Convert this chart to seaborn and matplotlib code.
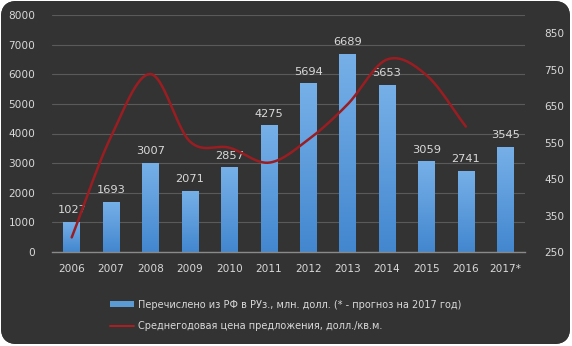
import numpy as np
import pandas as pd
import matplotlib
matplotlib.use("Agg")
import matplotlib.pyplot as plt
import seaborn as sns
from matplotlib.patches import FancyBboxPatch, Patch
from matplotlib.lines import Line2D
from matplotlib.colors import LinearSegmentedColormap

years = ["2006", "2007", "2008", "2009", "2010", "2011",
         "2012", "2013", "2014", "2015", "2016", "2017*"]
transfers = [1027, 1693, 3007, 2071, 2857, 4275, 5694, 6689, 5653, 3059, 2741, 3545]
price_years = years[:11]
price = [290, 567, 738, 553, 536, 495, 558, 655, 778, 735, 594]

bar_label = "Перечислено из РФ в РУз., млн. долл. (* - прогноз на 2017 год)"
line_label = "Среднегодовая цена предложения, долл./кв.м."

text_col = "#d9d9d9"
grid_col = "#5a5a5a"
line_col = "#9a1d22"

sns.set_theme(style="dark")
plt.rcParams["font.family"] = ["DejaVu Sans"]

W, H, DPI = 572, 346, 100
fig = plt.figure(figsize=(W / DPI, H / DPI), dpi=DPI, facecolor="white")

# dark rounded panel with a soft radial gradient
bg = fig.add_axes([0, 0, 1, 1], zorder=-10)
bg.set_xlim(0, W)
bg.set_ylim(0, H)
bg.axis("off")
panel = FancyBboxPatch((1, 2), W - 3, H - 3, boxstyle="round,pad=0,rounding_size=16",
                       facecolor="#333333", edgecolor="none", transform=bg.transData)
bg.add_patch(panel)
gx, gy = np.meshgrid(np.linspace(0, W, 300), np.linspace(0, H, 200))
r = np.sqrt(((gx - 0.62 * W) / (0.72 * W)) ** 2 + ((gy - 0.58 * H) / (0.85 * H)) ** 2)
r = np.clip(r, 0, 1)
bg_cmap = LinearSegmentedColormap.from_list("bg", ["#4c4c4c", "#383838", "#1f1f1f"])
img = bg.imshow(r, extent=[0, W, 0, H], origin="lower", cmap=bg_cmap, vmin=0, vmax=1,
                aspect="auto", zorder=0)
img.set_clip_path(panel)

ax = fig.add_axes([52 / W, 1 - 252 / H, 473 / W, 237 / H])
ax.set_facecolor("none")

df = pd.DataFrame({"year": years, "value": transfers})
sns.barplot(data=df, x="year", y="value", color="#5b9bd5", width=0.42, ax=ax,
            saturation=1, zorder=2, edgecolor="none", linewidth=0)

# vertical gradient fill inside every bar
bar_cmap = LinearSegmentedColormap.from_list("bar", ["#4387cf", "#77b0e8"])
grad = np.linspace(0, 1, 100).reshape(-1, 1)
for p in list(ax.patches):
    x0, w, h = p.get_x(), p.get_width(), p.get_height()
    im = ax.imshow(grad, extent=[x0, x0 + w, 0, h], origin="lower", cmap=bar_cmap,
                   aspect="auto", zorder=2.5)
    im.set_clip_path(p)
    ax.text(x0 + w / 2, h + 230, f"{int(h)}", ha="center", va="bottom",
            color=text_col, fontsize=8.2, zorder=4)

ax.set_xlim(-0.5, 11.5)
ax.set_ylim(0, 8000)
ax.set_yticks(np.arange(0, 8001, 1000))
ax.set_xlabel("")
ax.set_ylabel("")
ax.grid(axis="y", color=grid_col, linewidth=0.8)
ax.grid(axis="x", visible=False)
ax.set_axisbelow(True)
for s in ["top", "right", "left"]:
    ax.spines[s].set_visible(False)
ax.spines["bottom"].set_color("#8a8a8a")
ax.spines["bottom"].set_linewidth(1.0)
ax.tick_params(axis="both", colors=text_col, labelsize=7.6, length=0)
ax.tick_params(axis="y", pad=12)
ax.tick_params(axis="x", pad=9)

# secondary axis: smoothed price curve
ax2 = ax.twinx()
ax2.set_ylim(250, 900)
ax2.set_yticks(np.arange(250, 851, 100))
ax2.tick_params(axis="y", colors=text_col, labelsize=7.6, length=0, pad=14)
for s in ax2.spines.values():
    s.set_visible(False)
ax2.grid(False)


def catmull_rom(xs, ys, n=30):
    xs = np.asarray(xs, float)
    ys = np.asarray(ys, float)
    px = np.concatenate([[2 * xs[0] - xs[1]], xs, [2 * xs[-1] - xs[-2]]])
    py = np.concatenate([[2 * ys[0] - ys[1]], ys, [2 * ys[-1] - ys[-2]]])
    outx, outy = [], []
    for i in range(1, len(px) - 2):
        t = np.linspace(0, 1, n, endpoint=False)
        for arr, out in ((px, outx), (py, outy)):
            p0, p1, p2, p3 = arr[i - 1], arr[i], arr[i + 1], arr[i + 2]
            out.append(0.5 * (2 * p1 + (-p0 + p2) * t + (2 * p0 - 5 * p1 + 4 * p2 - p3) * t ** 2
                              + (-p0 + 3 * p1 - 3 * p2 + p3) * t ** 3))
    outx.append([xs[-1]])
    outy.append([ys[-1]])
    return np.concatenate(outx), np.concatenate(outy)


pos = [years.index(y) for y in price_years]
sx, sy = catmull_rom(pos, price)
ax2.plot(sx, sy, color=line_col, linewidth=1.8, zorder=5, solid_capstyle="round")

handles = [Patch(facecolor="#5b9bd5", edgecolor="none"),
           Line2D([], [], color="#b01e22", linewidth=1.4)]
fig.legend(handles, [bar_label, line_label], loc="upper left",
           bbox_to_anchor=(101 / W, 1 - 291 / H), frameon=False, fontsize=7.0,
           labelcolor=text_col, handlelength=2.5, handleheight=0.6,
           handletextpad=0.45, labelspacing=1.15)

fig.savefig("out.png", dpi=DPI, facecolor="white")
